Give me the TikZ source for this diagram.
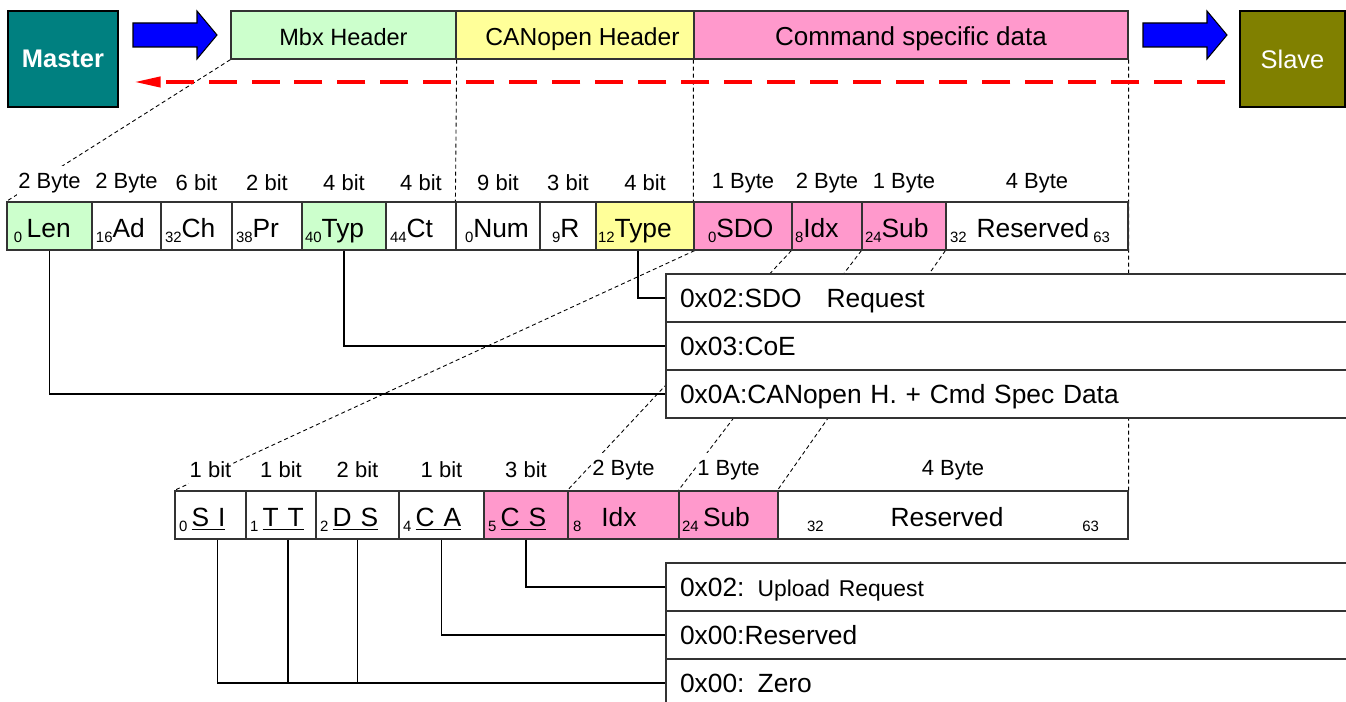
\documentclass[tikz,border=0pt]{standalone}
\usepackage{fontspec}
\setmainfont{Liberation Sans}
\usetikzlibrary{arrows.meta}
\definecolor{mastercol}{RGB}{0,128,128}
\definecolor{slavecol}{RGB}{128,128,0}
\definecolor{mbxgreen}{RGB}{204,255,204}
\definecolor{canyellow}{RGB}{255,255,153}
\definecolor{cmdpink}{RGB}{255,153,204}
\newcommand{\bitpos}[1]{\raisebox{-0.35ex}{\fontsize{8.5}{9}\selectfont#1}}
\pgfdeclarelayer{guides}
\pgfsetlayers{guides,main}

\begin{document}
\begin{tikzpicture}[x=0.02cm,y=-0.02cm,>={Triangle[length=0.54cm,width=0.2cm]},
  station/.style={draw=black,line width=0.8pt,minimum width=2.2cm,minimum height=1.92cm,text=white,font=\fontsize{14.5}{17}\selectfont},
  hdr/.style={draw=black!80,line width=0.8pt,minimum height=0.96cm,inner sep=0pt,text height=12.5pt,text depth=0pt,font=\fontsize{14}{16}\selectfont},
  cell/.style={draw=black!80,line width=0.7pt,minimum height=0.96cm,inner ysep=0pt,align=left,text height=13pt,text depth=0pt,font=\fontsize{15}{17}\selectfont},
  bitlbl/.style={fill=white,inner xsep=0.5pt,inner ysep=4pt,font=\fontsize{12.5}{14}\selectfont},
  valbox/.style={draw=black!80,line width=0.7pt,fill=white,minimum height=0.96cm,text width=13.32cm,inner xsep=0.28cm,inner ysep=0pt,align=left,text height=11pt,text depth=0pt,font=\fontsize{15}{17}\selectfont},
  wire/.style={line width=0.6pt},
  guide/.style={line width=0.5pt,dash pattern=on 0.08cm off 0.06cm},
  fatarrow/.style={draw=black,line width=0.6pt,fill=blue,line join=miter},
  backarrow/.style={->,red,line width=2.3pt,dash pattern=on 0.56cm off 0.3cm}]
\useasboundingbox (0,0) rectangle (1346,702);

\node[station,fill=mastercol,font={\fontsize{14.5}{17}\selectfont\bfseries}] (master) at (63,59) {Master};
\node[station,fill=slavecol,minimum width=2.1cm] (slave) at (1292.5,59) {Slave};
\node[hdr,fill=mbxgreen,minimum width=4.5cm,font=\fontsize{13.4}{16}\selectfont] (mbx) at (343.5,35) {Mbx Header};
\node[hdr,fill=canyellow,minimum width=4.76cm] (canh) at (575,35) {\hspace{0.3cm}CANopen Header};
\node[hdr,fill=cmdpink,minimum width=8.68cm,font=\fontsize{14.8}{17}\selectfont] (cmd) at (911,35) {Command specific data};

\draw[fatarrow] (133,23) -- ++(64,0) -- ++(0,-12) -- ++(20,24) -- ++(-20,24) -- ++(0,-12) -- ++(-64,0) -- cycle;
\draw[fatarrow] (1143,23) -- ++(64,0) -- ++(0,-12) -- ++(20,24) -- ++(-20,24) -- ++(0,-12) -- ++(-64,0) -- cycle;
\draw[backarrow] ([xshift=-0.28cm,yshift=-0.46cm]slave.west) -- ([xshift=0.3cm,yshift=-0.46cm]master.east);

\foreach \xa/\xb/\nm/\fc/\pd/\txt/\lbl in {
  7/92/len/mbxgreen/7/{\bitpos{0}\,Len}/2 Byte,
  92/161/ad/white/4/{\bitpos{16}Ad}/2 Byte,
  161/232/ch/white/4/{\bitpos{32}Ch}/6 bit,
  232/302/pr/white/4/{\bitpos{38}Pr}/2 bit,
  302/386/typ/mbxgreen/3/{\bitpos{40}Typ}/4 bit,
  386/456/ct/white/4/{\bitpos{44}Ct}/4 bit,
  456/540/num/white/9/{\bitpos{0}Num}/9 bit,
  540/596/rr/white/12/{\bitpos{9}R}/3 bit,
  596/694/type/canyellow/2/{\bitpos{12}Type}/4 bit,
  694/792/sdo/cmdpink/14/{\bitpos{0}SDO}/1 Byte,
  792/862/idx/cmdpink/3/{\bitpos{8}Idx}/2 Byte,
  862/946/sub/cmdpink/3/{\bitpos{24}Sub}/1 Byte,
  946/1128/res/white/4/{\bitpos{32}\hspace{0.2cm}Reserved\hspace{0.08cm}\bitpos{63}}/4 Byte}{
  \pgfmathsetmacro\tw{(\xb-\xa-2*\pd)*0.02}
  \pgfmathsetmacro\ps{\pd*0.02}
  \node[bitlbl] at ({(\xa+\xb)/2},183) {\lbl};
  \node[cell,fill=\fc,text width=\tw cm,inner xsep=\ps cm] (\nm) at ({(\xa+\xb)/2},226) {\txt};
}

\foreach \xa/\xb/\nm/\fc/\pd/\txt/\lbl in {
  175/246/si/white/4/{\bitpos{0}\,\underline{S I}}/1 bit,
  246/316/tt/white/4/{\bitpos{1}\,\underline{T T}}/1 bit,
  316/399/ds/white/4/{\bitpos{2}\,\underline{D S}}/2 bit,
  399/484/ca/white/4/{\bitpos{4}\,\underline{C A}}/1 bit,
  484/568/cs/cmdpink/4/{\bitpos{5}\,\underline{C S}}/3 bit,
  568/679/idxb/cmdpink/5/{\bitpos{8}\hspace{0.4cm}Idx}/2 Byte,
  679/778/subb/cmdpink/3/{\bitpos{24}\,Sub}/1 Byte,
  778/1128/resb/white/29/{\bitpos{32}\hspace{\stretch{0.85}}Reserved\hspace{\stretch{1}}\bitpos{63}}/4 Byte}{
  \pgfmathsetmacro\tw{(\xb-\xa-2*\pd)*0.02}
  \pgfmathsetmacro\ps{\pd*0.02}
  \node[bitlbl] at ({(\xa+\xb)/2},470) {\lbl};
  \node[cell,fill=\fc,text width=\tw cm,inner xsep=\ps cm] (\nm) at ({(\xa+\xb)/2},515) {\txt};
}

\node[valbox] (sdoreq) at (1013,298) {0x02:SDO\hspace{0.5cm}Request};
\node[valbox] (coe) at (1013,346) {0x03:CoE};
\node[valbox] (canspec) at (1013,394) {0x0A:CANopen H. + Cmd Spec Data};
\node[valbox] (upload) at (1013,587) {0x02: {\fontsize{13}{15}\selectfont Upload Request}};
\node[valbox] (rsv) at (1013,635) {0x00:Reserved};
\node[valbox] (zero) at (1013,683) {0x00: Zero};

\draw[wire] ([xshift=-0.14cm]type.south) |- (sdoreq.west);
\draw[wire] (typ.south) |- (coe.west);
\draw[wire] (len.south) |- (canspec.west);
\draw[wire] (cs.south) |- (upload.west);
\draw[wire] (ca.south) |- (rsv.west);
\draw[wire] ([xshift=0.14cm]si.south) |- (zero.west);
\draw[wire] ([xshift=0.14cm]tt.south) -- ([xshift=0.14cm]tt.south |- zero.west);
\draw[wire] (ds.south) -- (ds.south |- zero.west);

\begin{pgfonlayer}{guides}
\draw[guide] (mbx.south west) -- (len.north west);
\draw[guide] (mbx.south east) -- (num.north west);
\draw[guide] (cmd.south west) -- (sdo.north west);
\draw[guide] (cmd.south east) -- (resb.north east);
\draw[guide] (type.south east) -- (si.north west);
\draw[guide] (idx.south west) -- (idxb.north west);
\draw[guide] (sub.south west) -- (subb.north west);
\draw[guide] (res.south west) -- (resb.north west);
\end{pgfonlayer}
\end{tikzpicture}
\end{document}
